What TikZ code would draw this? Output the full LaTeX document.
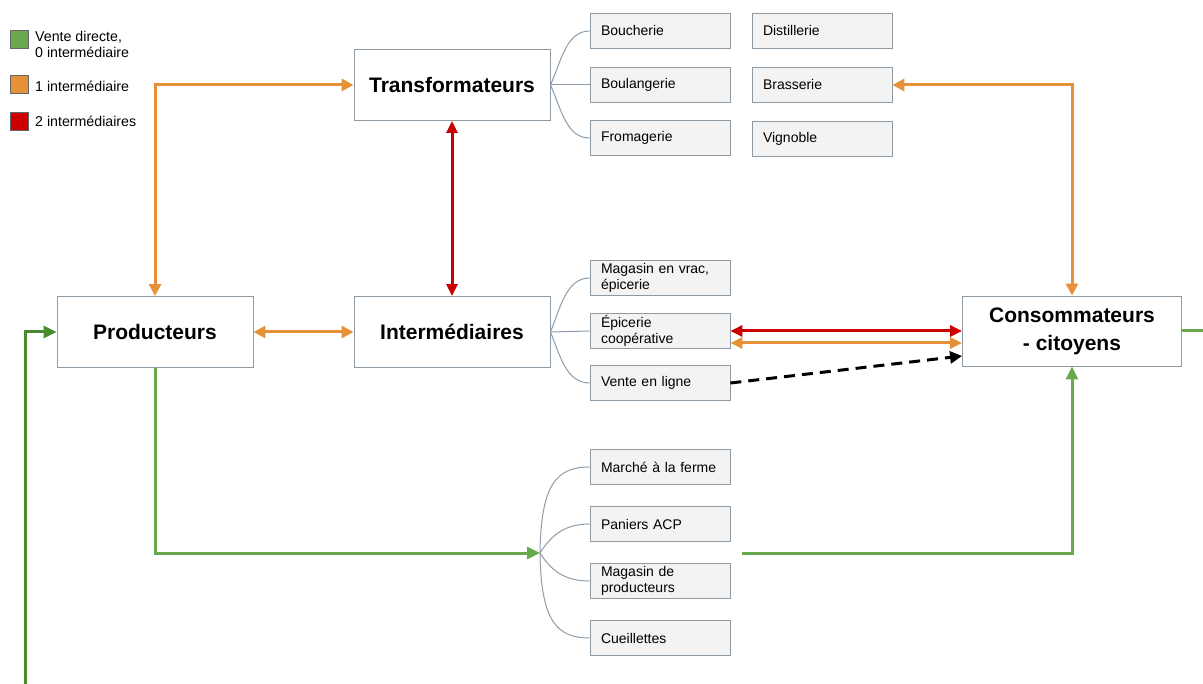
\documentclass[tikz,border=0pt]{standalone}
\usepackage{fontspec}
\setmainfont{Liberation Sans}
\usetikzlibrary{arrows.meta}
\definecolor{cOrange}{HTML}{E69138}
\definecolor{cRed}{HTML}{CC0000}
\definecolor{cGreen}{HTML}{6AA84F}
\definecolor{cGreenD}{HTML}{4B8B2F}
\definecolor{boxgrey}{HTML}{8E9BA5}
\definecolor{boxfill}{HTML}{F3F3F3}
\definecolor{branch}{HTML}{8F9BA8}
\tikzset{
  bigbox/.style={draw=boxgrey, fill=white, line width=0.9pt, minimum width=196pt,
    minimum height=71pt, inner sep=0pt, align=center,
    font=\fontsize{21}{28}\selectfont\bfseries},
  smallbox/.style={draw=boxgrey, fill=boxfill, line width=0.8pt, minimum width=140pt,
    minimum height=35pt, inner xsep=11pt, inner ysep=0pt, text width=118pt, align=left,
    font=\fontsize{14}{16.5}\selectfont},
  legsq/.style={draw=black!60, line width=0.5pt, minimum width=18pt, minimum height=18pt, inner sep=0pt},
  legtxt/.style={anchor=west, inner sep=0pt, align=left, font=\fontsize{14.2}{16}\selectfont},
  flow/.style={line width=3pt},
  br/.style={draw=branch, line width=1pt},
}
\begin{document}
\begin{tikzpicture}[x=1pt,y=-1pt]
\useasboundingbox (0,0) rectangle (1203,684);
% legend
\node[legsq, fill=cGreen] (lg) at (19,39) {};
\node[legtxt] (lgt) at (35,44) {Vente directe,\\0 intermédiaire};
\node[legsq, fill=cOrange] (lo) at (19,84) {};
\node[legtxt] (lot) at (35,86) {1 intermédiaire};
\node[legsq, fill=cRed] (lr) at (19,121) {};
\node[legtxt] (lrt) at (35,121) {2 intermédiaires};
% main boxes
\node[bigbox] (trans) at (452,85) {Transformateurs};
\node[bigbox] (prod) at (155,332) {Producteurs};
\node[bigbox] (inter) at (452,332) {Intermédiaires};
\node[bigbox, minimum width=219pt, minimum height=70pt] (cons) at (1072,331) {Consommateurs\\- citoyens};
% small boxes
\node[smallbox] (bouch) at (660,31) {Boucherie};
\node[smallbox] (boul) at (660,85) {Boulangerie};
\node[smallbox] (from) at (660,138) {Fromagerie};
\node[smallbox] (dist) at (822,31) {Distillerie};
\node[smallbox] (bras) at (822,85) {Brasserie};
\node[smallbox] (vign) at (822,139) {Vignoble};
\node[smallbox] (vrac) at (660,278) {Magasin en vrac,\\épicerie};
\node[smallbox] (epi) at (660,331) {Épicerie\\coopérative};
\node[smallbox] (vente) at (660,383) {Vente en ligne};
\node[smallbox] (marche) at (660,467) {\mbox{Marché à la ferme}};
\node[smallbox] (panier) at (660,524) {Paniers ACP};
\node[smallbox] (magp) at (660,581) {Magasin de\\producteurs};
\node[smallbox] (cueil) at (660,638) {Cueillettes};
% branch connectors
\draw[br] (trans.east) .. controls (561,62) and (566,31) .. (bouch.west);
\draw[br] (trans.east) -- (boul.west);
\draw[br] (trans.east) .. controls (561,108) and (566,138) .. (from.west);
\draw[br] (inter.east) .. controls (560,309) and (566,278) .. (vrac.west);
\draw[br] (inter.east) -- (epi.west);
\draw[br] (inter.east) .. controls (560,355) and (566,383) .. (vente.west);
\coordinate (hub) at (540,553);
\draw[br] (hub) .. controls (541,485) and (556,467) .. (marche.west);
\draw[br] (hub) .. controls (552,534) and (566,524) .. (panier.west);
\draw[br] (hub) .. controls (552,572) and (566,581) .. (magp.west);
\draw[br] (hub) .. controls (541,620) and (556,638) .. (cueil.west);
% orange flows
\draw[flow, cOrange, {Triangle[length=12pt,width=12pt]}-{Triangle[length=12pt,width=12pt]}] (prod.north) |- (trans.west);
\draw[flow, cOrange, {Triangle[length=12pt,width=12pt]}-{Triangle[length=12pt,width=12pt]}] (prod.east) -- (inter.west);
\draw[flow, cOrange, {Triangle[length=12pt,width=12pt]}-{Triangle[length=12pt,width=12pt]}] (bras.east) -| (cons.north);
\draw[flow, cOrange, {Triangle[length=12pt,width=11pt]}-{Triangle[length=12pt,width=11pt]}] ([yshift=-12pt]epi.east) -- ([yshift=-12pt]cons.west);
% red flows
\draw[flow, cRed, {Triangle[length=12pt,width=11pt]}-{Triangle[length=12pt,width=11pt]}] (trans.south) -- (inter.north);
\draw[flow, cRed, {Triangle[length=12pt,width=11pt]}-{Triangle[length=12pt,width=11pt]}] (epi.east) -- (cons.west);
% dashed
\draw[line width=3pt, dash pattern=on 11pt off 7pt, -{Triangle[length=12pt,width=12pt]}] (vente.east) -- ([yshift=-25pt]cons.west);
% green flows
\draw[flow, cGreen, -{Triangle[length=13pt,width=12pt]}] (prod.south) |- (hub);
\coordinate (gstart) at (742,553);
\draw[flow, cGreen, -{Triangle[length=13pt,width=12pt]}] (gstart) -| (cons.south);
\coordinate (exitR) at (1203,331);
\draw[flow, cGreen] (cons.east) -- (exitR);
\coordinate (entryB) at (25,684);
\draw[flow, cGreenD, -{Triangle[length=13pt,width=12pt]}] (entryB) |- (prod.west);
\end{tikzpicture}
\end{document}
